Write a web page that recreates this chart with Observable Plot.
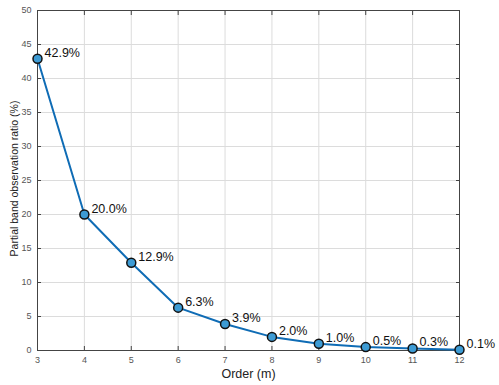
<!DOCTYPE html>
<html><head><meta charset="utf-8">
<script src="https://cdn.jsdelivr.net/npm/d3@7"></script>
<script src="https://cdn.jsdelivr.net/npm/@observablehq/plot@0.6"></script>
<style>body{margin:0;background:#fff;} svg{display:block;}</style>
</head><body><div id="chart"></div>
<script>
const orders = [3, 4, 5, 6, 7, 8, 9, 10, 11, 12];
const ratios = [42.9, 20.0, 12.9, 6.3, 3.9, 2.0, 1.0, 0.5, 0.3, 0.1];
const labels = ["42.9%", "20.0%", "12.9%", "6.3%", "3.9%", "2.0%", "1.0%", "0.5%", "0.3%", "0.1%"];
const xTicks = [3, 4, 5, 6, 7, 8, 9, 10, 11, 12];
const yTicks = [0, 5, 10, 15, 20, 25, 30, 35, 40, 45, 50];

const data = orders.map((o, i) => ({order: o, ratio: ratios[i], label: labels[i]}));

const chart = Plot.plot({
  width: 499, height: 385,
  marginLeft: 37, marginRight: 40, marginTop: 10, marginBottom: 35,
  style: {fontFamily: "Arial, 'Liberation Sans', sans-serif", background: "#fff"},
  x: {domain: [3, 12]},
  y: {domain: [0, 50]},
  marks: [
    Plot.gridX(xTicks, {stroke: "#dcdcdc", strokeOpacity: 1}),
    Plot.gridY(yTicks, {stroke: "#dcdcdc", strokeOpacity: 1}),
    Plot.axisX(xTicks, {tickSize: -4, tickPadding: 10, stroke: "#444", color: "#555", fontSize: 9, label: null}),
    Plot.axisX(xTicks, {anchor: "top", tickSize: -4, stroke: "#444", tickFormat: () => "", label: null}),
    Plot.axisY(yTicks, {tickSize: -4, tickPadding: 10, stroke: "#444", color: "#555", fontSize: 9, label: null}),
    Plot.axisY(yTicks, {anchor: "right", tickSize: -4, stroke: "#444", tickFormat: () => "", label: null}),
    Plot.frame({stroke: "#444", strokeWidth: 1}),
    Plot.line(data, {x: "order", y: "ratio", stroke: "#0f6cb5", strokeWidth: 2}),
    Plot.dot(data, {x: "order", y: "ratio", r: 4.5, fill: "#3d9bd4", stroke: "#111", strokeWidth: 1.5}),
    Plot.text(data, {x: "order", y: "ratio", text: "label", textAnchor: "start", dx: 7, dy: -6, fontSize: 12.5, fill: "#111"}),
    Plot.text(["Order (m)"], {frameAnchor: "bottom", dy: 27, fontSize: 12.5, fill: "#222"}),
    Plot.text(["Partial band observation ratio (%)"], {frameAnchor: "left", textAnchor: "middle", dx: -23, dy: -2, rotate: -90, fontSize: 10.5, fill: "#222"})
  ]
});
document.getElementById("chart").appendChild(chart);
</script>
</body></html>
